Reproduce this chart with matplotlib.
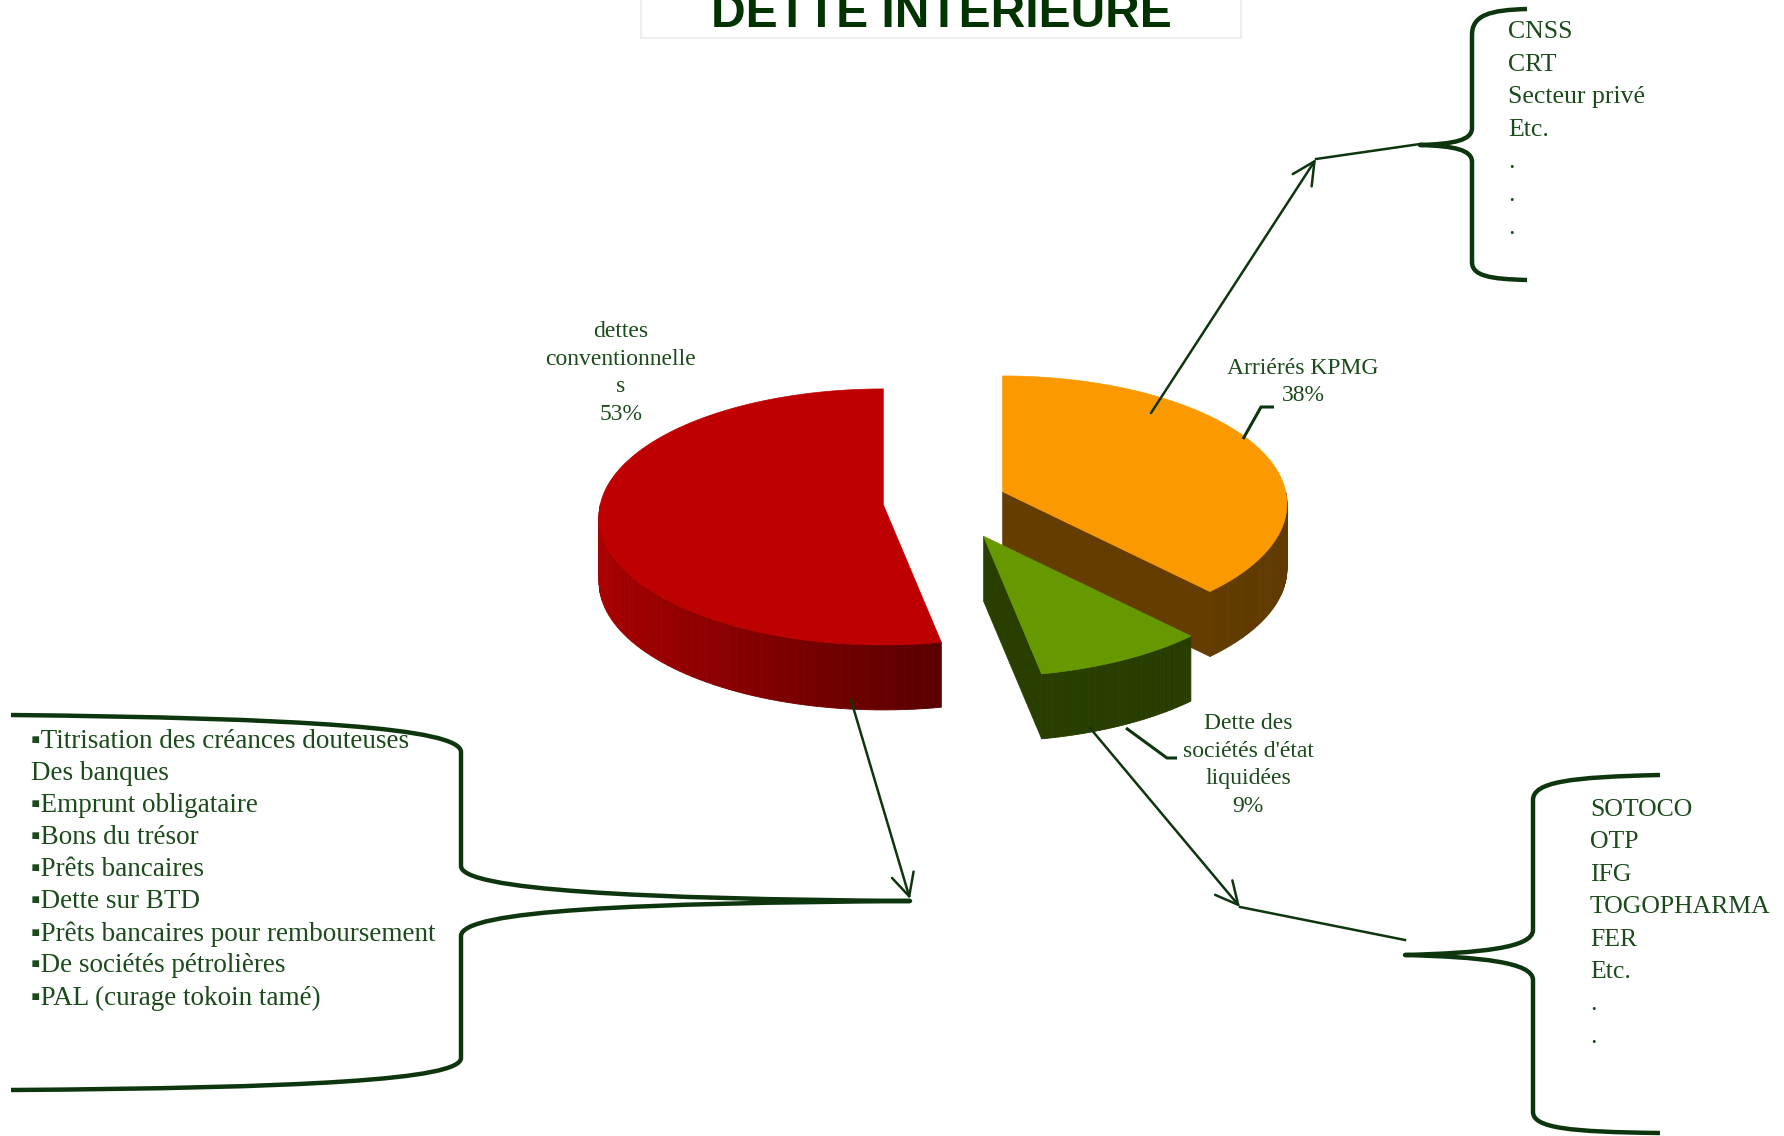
import numpy as np
import matplotlib.pyplot as plt
from matplotlib.path import Path
from matplotlib.patches import PathPatch, Polygon, Rectangle, FancyArrowPatch

# slices, clockwise from 12 o'clock
slice_labels = ["Arriérés KPMG\n38%",
                "Dette des\nsociétés d'état\nliquidées\n9%",
                "dettes\nconventionnelle\ns\n53%"]
values = [38, 9, 53]
top_colors = ['#FA9900', '#669900', '#BF0000']
face_colors = ['#663D00', '#283F00', '#7A0000']
wall_light = ['#6A3F00', '#2A4200', '#AA0000']
wall_dark = ['#603A00', '#263C00', '#220000']
explode = [62, 85, 62]

title = "DETTE INTERIEURE"
list_left = ["\u25aaTitrisation des créances douteuses", "Des banques",
             "\u25aaEmprunt obligataire", "\u25aaBons du trésor",
             "\u25aaPrêts bancaires", "\u25aaDette sur BTD",
             "\u25aaPrêts bancaires pour remboursement",
             "\u25aaDe sociétés pétrolières", "\u25aaPAL (curage tokoin tamé)"]
list_top_right = ["CNSS", "CRT", "Secteur privé", "Etc.", ".", ".", "."]
list_bottom_right = ["SOTOCO", "OTP", "IFG", "TOGOPHARMA", "FER", "Etc.", ".", "."]

TXT = '#1B4A1B'
LINE = '#0E360E'
FONT = ['Liberation Serif', 'DejaVu Sans']

W, H = 1784, 1136
fig = plt.figure(figsize=(W / 100, H / 100), dpi=100)
ax = fig.add_axes([0, 0, 1, 1])
ax.set_xlim(0, W)
ax.set_ylim(H, 0)
ax.axis('off')

# 3d pie geometry (pixels)
CX, CY = 945, 502
RX, RY = 283, 128
P = 0.096
DEPTH = 65


def rim(cx, cy, th):
    t = np.radians(th)
    v = -np.cos(t)
    s = 1 + P * v
    return cx + RX * s * np.sin(t), cy + RY * s * v


def mix(c1, c2, f):
    a = np.array([int(c1[i:i + 2], 16) for i in (1, 3, 5)]) / 255
    b = np.array([int(c2[i:i + 2], 16) for i in (1, 3, 5)]) / 255
    return tuple(a * f + b * (1 - f))


total = sum(values)
bounds = []
start = 0.0
for v in values:
    end = start + v / total * 360
    bounds.append((start, end))
    start = end

for i in [2, 0, 1]:
    a, b = bounds[i]
    mid = (a + b) / 2
    d = explode[i]
    cx = CX + d * np.sin(np.radians(mid))
    cy = CY - d * np.cos(np.radians(mid)) * RY / RX

    # radial faces
    for th, nrm in [(a, a - 90), (b, b + 90)]:
        if -np.cos(np.radians(nrm)) > 0.02:
            x, y = rim(cx, cy, th)
            ax.add_patch(Polygon([(cx, cy), (x, y), (x, y + DEPTH), (cx, cy + DEPTH)],
                                 closed=True, fc=face_colors[i], ec=face_colors[i], lw=0.5))
    # outer wall
    lo, hi = max(a, 90), min(b, 270)
    if hi > lo:
        ts = np.linspace(lo, hi, 60)
        for t0, t1 in zip(ts[:-1], ts[1:]):
            x0, y0 = rim(cx, cy, t0)
            x1, y1 = rim(cx, cy, t1)
            f = (1 - np.sin(np.radians((t0 + t1) / 2))) / 2
            col = mix(wall_light[i], wall_dark[i], f)
            ax.add_patch(Polygon([(x0, y0), (x1, y1), (x1, y1 + DEPTH), (x0, y0 + DEPTH)],
                                 closed=True, fc=col, ec=col, lw=0.6))
    # top
    ts = np.linspace(a, b, 120)
    xs, ys = rim(cx, cy, ts)
    pts = [(cx, cy)] + list(zip(xs, ys))
    ax.add_patch(Polygon(pts, closed=True, fc=top_colors[i], ec=top_colors[i], lw=0.5))

# slice labels
lab_pos = [(1303, 382), (1248, 765), (621, 373)]
for txt, (x, y) in zip(slice_labels, lab_pos):
    ax.text(x, y, txt, ha='center', va='center', fontsize=17, color=TXT,
            family=FONT, linespacing=1.4)

# label leader lines
ax.plot([1243, 1261, 1274], [439, 407, 407], color=LINE, lw=2.2, solid_capstyle='butt')
ax.plot([1126, 1167, 1177], [728, 758, 758], color=LINE, lw=2.2, solid_capstyle='butt')

# title (cut at the top edge, as in the source)
ax.add_patch(Rectangle((641, -10), 600, 48, fc='white', ec='#EEEEEE', lw=1.5))
ax.text(941, 27, title, ha='center', va='baseline', fontsize=34.5, fontweight='bold',
        color='#003300', family=['Liberation Sans', 'DejaVu Sans'])


def brace(verts, codes):
    ax.add_patch(PathPatch(Path(verts, codes), fc='none', ec=LINE, lw=3.2,
                           capstyle='butt', joinstyle='round'))


M, L, C = Path.MOVETO, Path.LINETO, Path.CURVE4

# top-right brace
brace([(1527, 9), (1490, 10), (1472, 15), (1472, 35),
       (1472, 128),
       (1472, 140), (1455, 144), (1420, 145),
       (1455, 146), (1472, 150), (1472, 162),
       (1472, 262),
       (1472, 276), (1490, 279), (1527, 280)],
      [M, C, C, C, L, C, C, C, C, C, C, L, C, C, C])

# bottom-right brace
brace([(1660, 775), (1570, 777), (1533, 782), (1533, 800),
       (1533, 930),
       (1533, 948), (1480, 953), (1405, 955),
       (1480, 957), (1533, 962), (1533, 980),
       (1533, 1112),
       (1533, 1128), (1570, 1132), (1660, 1133)],
      [M, C, C, C, L, C, C, C, C, C, C, L, C, C, C])

# left brace
brace([(11, 715), (300, 718), (461, 728), (461, 752),
       (461, 866),
       (461, 890), (640, 899), (910, 901),
       (640, 903), (461, 910), (461, 936),
       (461, 1058),
       (461, 1080), (300, 1088), (11, 1090)],
      [M, C, C, C, L, C, C, C, C, C, C, L, C, C, C])

# pointer arrows
arrows = [((1151, 413), (1316, 159)), ((851, 700), (910, 899)), ((1090, 728), (1240, 907))]
for p0, p1 in arrows:
    ax.add_patch(FancyArrowPatch(p0, p1, arrowstyle='->,head_length=0.9,head_width=0.45',
                                 mutation_scale=18, color=LINE, lw=1.8, shrinkA=0, shrinkB=0))
ax.plot([1316, 1420], [159, 144], color=LINE, lw=1.8)
ax.plot([1240, 1405], [907, 940], color=LINE, lw=1.8)

# lists
for k, t in enumerate(list_left):
    ax.text(31, 742 + k * 32.0, t, ha='left', va='center', fontsize=19.5, color=TXT, family=FONT)
for k, t in enumerate(list_top_right):
    ax.text(1508, 32 + k * 32.6, t, ha='left', va='center', fontsize=18.5, color=TXT, family=FONT)
for k, t in enumerate(list_bottom_right):
    ax.text(1590, 810 + k * 32.4, t, ha='left', va='center', fontsize=18.5, color=TXT, family=FONT)

fig.savefig('out.png', dpi=100, facecolor='white')
